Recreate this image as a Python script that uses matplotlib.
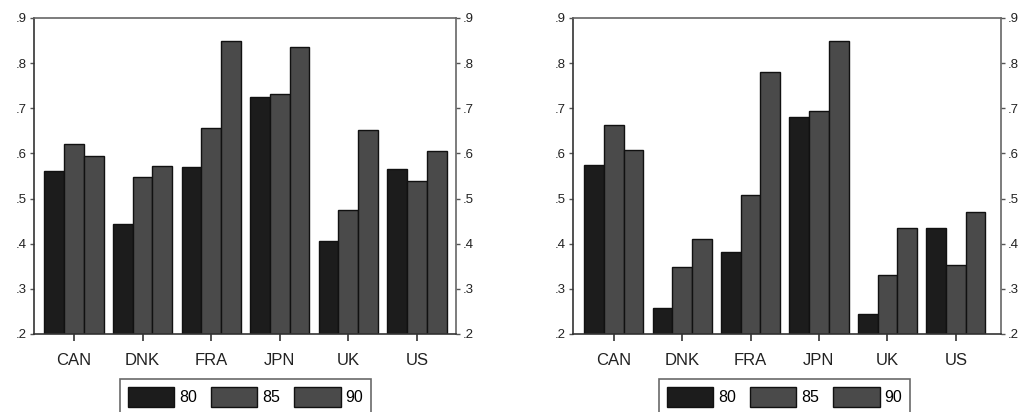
import matplotlib.pyplot as plt
import numpy as np

plt.rcParams['font.family'] = ['Liberation Sans', 'DejaVu Sans']

countries = ["CAN", "DNK", "FRA", "JPN", "UK", "US"]
years = ["80", "85", "90"]

# left panel
left_80 = [0.560, 0.443, 0.569, 0.726, 0.407, 0.566]
left_85 = [0.620, 0.548, 0.657, 0.732, 0.474, 0.539]
left_90 = [0.594, 0.573, 0.849, 0.836, 0.653, 0.606]

# right panel
right_80 = [0.575, 0.258, 0.381, 0.680, 0.245, 0.435]
right_85 = [0.662, 0.348, 0.507, 0.693, 0.331, 0.353]
right_90 = [0.608, 0.410, 0.781, 0.850, 0.434, 0.471]

yticks = [0.2, 0.3, 0.4, 0.5, 0.6, 0.7, 0.8, 0.9]
ytick_labels = [".2", ".3", ".4", ".5", ".6", ".7", ".8", ".9"]
colors = ["#1c1c1c", "#4a4a4a", "#4a4a4a"]


def draw_panel(ax, series, xlim):
    x = np.arange(len(countries))
    w = 0.288
    for i, vals in enumerate(series):
        ax.bar(x + (i - 1) * w, np.array(vals) - 0.2, w, bottom=0.2,
               color=colors[i], edgecolor="#111111", linewidth=1.0,
               label=years[i])
    ax.set_ylim(0.2, 0.9)
    ax.set_xlim(*xlim)
    ax.set_xticks(x)
    ax.set_xticklabels(countries, fontsize=12, color="#222222")
    ax.set_yticks(yticks)
    ax.set_yticklabels(ytick_labels, fontsize=9.5, color="#222222")
    ax.tick_params(axis="y", length=3, width=1, color="#555555", pad=2,
                   labelright=True, right=True)
    ax.tick_params(axis="x", length=5, width=1.2, color="#333333", pad=9)
    for side in ["left", "bottom"]:
        ax.spines[side].set_color("#333333")
        ax.spines[side].set_linewidth(1.2)
    for side in ["top", "right"]:
        ax.spines[side].set_color("#666666")
        ax.spines[side].set_linewidth(1.2)


fig = plt.figure(figsize=(10.2, 4.12), dpi=100)
ax1 = fig.add_axes([34 / 1020, 1 - 334 / 412, 422 / 1020, 316 / 412])
ax2 = fig.add_axes([573 / 1020, 1 - 334 / 412, 428 / 1020, 316 / 412])

draw_panel(ax1, [left_80, left_85, left_90], (-0.583, 5.57))
draw_panel(ax2, [right_80, right_85, right_90], (-0.594, 5.66))

for ax, cx in [(ax1, 245.5 / 1020), (ax2, 784.5 / 1020)]:
    leg = ax.legend(loc="upper center", bbox_to_anchor=(cx, 1 - 379 / 412),
                    bbox_transform=fig.transFigure, ncol=3, fontsize=11.5,
                    frameon=True, fancybox=False, handlelength=2.9,
                    handleheight=1.55, handletextpad=0.3, columnspacing=0.9,
                    borderpad=0.5, borderaxespad=0)
    leg.get_frame().set_edgecolor("#444444")
    leg.get_frame().set_linewidth(1.2)

fig.savefig("out.png", dpi=100)
